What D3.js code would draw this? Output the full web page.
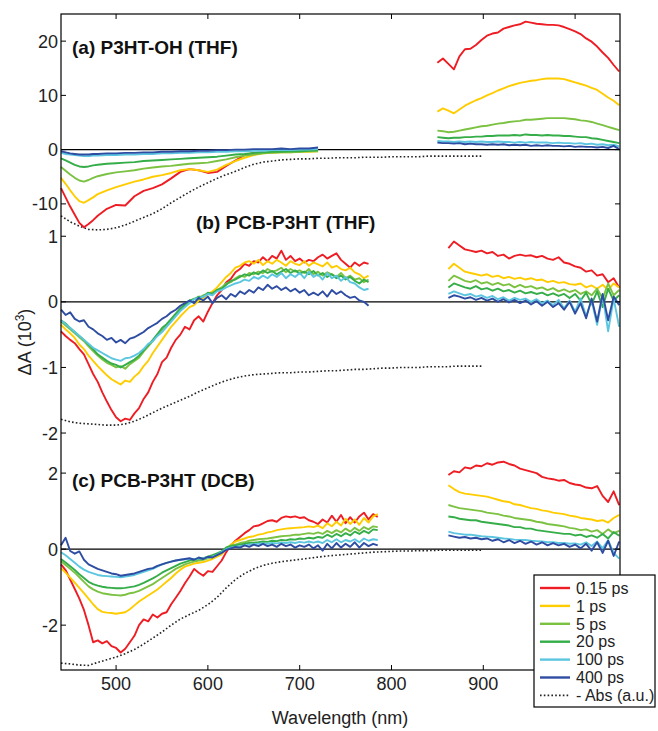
<!DOCTYPE html>
<html>
<head>
<meta charset="utf-8">
<script src="https://cdn.jsdelivr.net/npm/d3@7"></script>
<style>
  body { margin: 0; background: #fff; }
  svg { font-family: "Liberation Sans", Arial, sans-serif; }
</style>
</head>
<body>
<svg id="chart" width="658" height="731"></svg>
<script>
// wavelength grids (nm)
const wlVisA = [440, 445, 450, 455, 460, 465, 470, 475, 480, 490, 500, 510, 520, 530, 540, 550, 560, 570, 580, 590, 600, 610, 620, 630, 640, 650, 660, 670, 680, 690, 700, 710, 720];
const wlVis = d3.range(440, 786, 5);
const wlNir = d3.range(850, 1049, 6);
const wlAbs = d3.range(440, 901, 10);

const delays = ["0.15 ps", "1 ps", "5 ps", "20 ps", "100 ps", "400 ps"];
const colors = ["#ee1d24", "#ffcc00", "#7cc242", "#35ad48", "#5cc6e0", "#2e4da2"];

// ---- (a) P3HT-OH (THF), dA x 10^3
const aVis = [
  [-7.1, -8.8, -10.5, -12.0, -13.5, -14.3, -13.7, -13.0, -12.2, -10.9, -10.2, -10.3, -8.6, -7.6, -7.1, -6.4, -5.3, -4.1, -3.6, -3.8, -4.3, -4.1, -3.0, -2.0, -1.0, -0.6, -0.5, null, null, null, null, null, null],
  [-5.2, -6.3, -7.5, -8.6, -9.5, -9.8, -9.3, -8.8, -8.2, -7.5, -6.9, -6.4, -5.9, -5.5, -5.0, -4.7, -4.3, -3.8, -3.6, -3.8, -4.1, -3.7, -2.8, -2.1, -1.5, -1.0, -0.7, -0.6, -0.5, -0.5, -0.4, -0.4, -0.3],
  [-3.2, -3.9, -4.6, -5.2, -5.7, -5.9, -5.6, -5.2, -4.9, -4.5, -4.2, -4.0, -3.8, -3.5, -3.3, -3.1, -3.0, -2.8, -2.6, -2.5, -2.4, -2.1, -1.8, -1.4, -1.1, -0.9, -0.7, -0.6, -0.5, -0.5, -0.4, -0.3, -0.3],
  [-1.6, -2.0, -2.4, -2.8, -3.1, -3.2, -3.1, -2.9, -2.8, -2.6, -2.5, -2.4, -2.3, -2.1, -2.0, -1.9, -1.8, -1.7, -1.6, -1.5, -1.4, -1.3, -1.1, -0.9, -0.8, -0.6, -0.5, -0.4, -0.4, -0.3, -0.3, -0.2, -0.1],
  [-0.6, -0.8, -0.9, -1.0, -1.1, -1.2, -1.2, -1.1, -1.1, -1.0, -1.0, -0.9, -0.9, -0.8, -0.8, -0.7, -0.7, -0.6, -0.6, -0.5, -0.5, -0.4, -0.4, -0.3, -0.3, -0.2, -0.2, -0.1, -0.1, -0.1, 0.0, 0.0, 0.1],
  [-0.3, -0.5, -0.7, -0.8, -0.9, -0.9, -0.9, -0.8, -0.8, -0.7, -0.7, -0.6, -0.6, -0.5, -0.5, -0.4, -0.4, -0.3, -0.3, -0.2, -0.2, -0.1, -0.1, 0.0, 0.0, 0.1, 0.1, 0.1, 0.2, 0.1, 0.2, 0.2, 0.4]
];
const aNir = [
  [16.0, 16.8, 15.8, 14.8, 17.2, 18.5, 18.6, 19.3, 20.2, 21.0, 21.4, 21.6, 22.3, 22.6, 22.9, 23.1, 23.6, 23.4, 23.2, 23.1, 23.0, 23.0, 22.9, 22.6, 22.2, 21.8, 21.3, 20.5, 19.9, 19.0, 17.9, 16.9, 15.6, 14.4],
  [7.0, 7.6, 7.2, 6.7, 7.4, 8.1, 8.6, 9.1, 9.5, 10.0, 10.4, 10.9, 11.3, 11.7, 12.0, 12.3, 12.5, 12.7, 12.8, 13.0, 13.1, 13.1, 13.1, 13.0, 12.7, 12.4, 12.1, 11.8, 11.4, 11.0, 10.3, 9.6, 9.0, 8.2],
  [3.5, 3.4, 3.2, 3.3, 3.5, 3.7, 3.9, 4.1, 4.3, 4.4, 4.6, 4.8, 4.9, 5.1, 5.2, 5.3, 5.5, 5.5, 5.6, 5.7, 5.8, 5.8, 5.8, 5.8, 5.7, 5.6, 5.4, 5.3, 5.1, 4.8, 4.5, 4.2, 3.9, 3.6],
  [2.3, 2.2, 2.1, 2.2, 2.2, 2.3, 2.3, 2.4, 2.4, 2.5, 2.5, 2.6, 2.6, 2.6, 2.7, 2.6, 2.8, 2.7, 2.7, 2.6, 2.7, 2.6, 2.6, 2.5, 2.5, 2.4, 2.3, 2.3, 2.1, 2.0, 1.8, 1.6, 1.4, 1.2],
  [1.6, 1.5, 1.5, 1.4, 1.5, 1.4, 1.5, 1.4, 1.5, 1.4, 1.4, 1.5, 1.4, 1.4, 1.3, 1.4, 1.3, 1.4, 1.3, 1.3, 1.3, 1.2, 1.3, 1.2, 1.2, 1.1, 1.2, 1.0, 1.1, 0.9, 1.0, 0.8, 0.9, 0.6],
  [1.3, 1.2, 1.2, 1.1, 1.2, 1.0, 1.1, 1.0, 1.0, 0.9, 1.0, 0.9, 1.0, 0.8, 0.9, 0.8, 0.9, 0.7, 0.8, 0.7, 0.8, 0.7, 0.7, 0.6, 0.7, 0.5, 0.6, 0.5, 0.5, 0.4, 0.5, 0.3, 0.7, 0.1]
];
const aAbs = [-12.2, -13.3, -14.1, -14.7, -14.8, -14.7, -14.4, -13.9, -13.2, -12.5, -11.8, -10.9, -9.8, -8.8, -7.8, -6.9, -6.1, -5.3, -4.6, -4.0, -3.3, -2.7, -2.3, -2.1, -1.9, -1.8, -1.7, -1.7, -1.6, -1.6, -1.5, -1.5, -1.5, -1.4, -1.4, -1.4, -1.3, -1.3, -1.3, -1.3, -1.2, -1.2, -1.2, -1.2, -1.2, -1.2, -1.2];

// ---- (b) PCB-P3HT (THF)
const bVis = [
  [-0.45, -0.52, -0.58, -0.63, -0.72, -0.80, -0.95, -1.10, -1.22, -1.38, -1.52, -1.65, -1.76, -1.82, -1.78, -1.80, -1.70, -1.62, -1.48, -1.38, -1.22, -1.10, -0.92, -0.85, -0.70, -0.58, -0.50, -0.38, -0.42, -0.28, -0.22, -0.30, -0.15, -0.02, 0.10, 0.18, 0.30, 0.35, 0.45, 0.50, 0.58, 0.55, 0.62, 0.60, 0.68, 0.62, 0.70, 0.66, 0.78, 0.64, 0.70, 0.62, 0.66, 0.60, 0.64, 0.62, 0.68, 0.72, 0.66, 0.70, 0.74, 0.64, 0.58, 0.52, 0.60, 0.55, 0.60, 0.58, null, null],
  [-0.35, -0.42, -0.48, -0.55, -0.65, -0.72, -0.82, -0.90, -0.98, -1.05, -1.12, -1.18, -1.22, -1.26, -1.20, -1.22, -1.14, -1.08, -0.98, -0.90, -0.78, -0.68, -0.58, -0.48, -0.38, -0.30, -0.22, -0.15, -0.08, -0.05, 0.02, 0.06, 0.12, 0.16, 0.22, 0.30, 0.38, 0.44, 0.52, 0.55, 0.60, 0.62, 0.58, 0.64, 0.56, 0.62, 0.58, 0.64, 0.60, 0.55, 0.62, 0.58, 0.56, 0.62, 0.55, 0.60, 0.57, 0.54, 0.60, 0.52, 0.55, 0.50, 0.48, 0.52, 0.45, 0.42, 0.36, 0.40, null, null],
  [-0.30, -0.36, -0.42, -0.48, -0.54, -0.60, -0.68, -0.75, -0.82, -0.88, -0.93, -0.96, -1.00, -0.98, -1.02, -0.95, -0.90, -0.85, -0.76, -0.68, -0.60, -0.50, -0.43, -0.36, -0.28, -0.20, -0.12, -0.05, 0.00, 0.05, 0.04, 0.10, 0.12, 0.14, 0.18, 0.22, 0.28, 0.30, 0.36, 0.40, 0.38, 0.44, 0.42, 0.46, 0.44, 0.50, 0.46, 0.48, 0.52, 0.45, 0.50, 0.46, 0.48, 0.44, 0.50, 0.42, 0.46, 0.40, 0.45, 0.42, 0.38, 0.44, 0.36, 0.40, 0.34, 0.36, 0.30, 0.34, null, null],
  [-0.28, -0.33, -0.40, -0.46, -0.52, -0.58, -0.65, -0.72, -0.80, -0.85, -0.90, -0.94, -0.96, -1.00, -0.96, -0.92, -0.88, -0.82, -0.74, -0.66, -0.58, -0.49, -0.40, -0.34, -0.26, -0.18, -0.10, -0.04, 0.02, 0.04, 0.08, 0.08, 0.14, 0.12, 0.18, 0.20, 0.26, 0.32, 0.34, 0.38, 0.42, 0.40, 0.45, 0.42, 0.48, 0.44, 0.47, 0.42, 0.46, 0.50, 0.44, 0.48, 0.43, 0.46, 0.42, 0.47, 0.40, 0.44, 0.38, 0.42, 0.36, 0.40, 0.34, 0.38, 0.32, 0.28, 0.34, 0.30, null, null],
  [-0.28, -0.34, -0.40, -0.46, -0.52, -0.58, -0.64, -0.70, -0.74, -0.78, -0.82, -0.86, -0.88, -0.90, -0.86, -0.85, -0.82, -0.78, -0.72, -0.64, -0.60, -0.52, -0.46, -0.38, -0.30, -0.22, -0.14, -0.08, -0.02, 0.04, 0.06, 0.08, 0.12, 0.10, 0.16, 0.18, 0.22, 0.25, 0.28, 0.30, 0.34, 0.32, 0.38, 0.35, 0.40, 0.36, 0.42, 0.38, 0.44, 0.36, 0.42, 0.38, 0.44, 0.36, 0.46, 0.38, 0.42, 0.34, 0.44, 0.36, 0.40, 0.32, 0.38, 0.30, 0.28, 0.22, 0.18, 0.20, null, null],
  [-0.12, -0.20, -0.16, -0.26, -0.30, -0.28, -0.38, -0.42, -0.48, -0.52, -0.58, -0.55, -0.62, -0.58, -0.63, -0.56, -0.54, -0.50, -0.46, -0.40, -0.36, -0.32, -0.26, -0.22, -0.16, -0.12, -0.06, -0.02, 0.02, -0.02, 0.06, 0.02, 0.08, -0.02, 0.06, 0.10, 0.04, 0.12, 0.08, 0.16, 0.12, 0.18, 0.14, 0.22, 0.18, 0.26, 0.20, 0.24, 0.18, 0.22, 0.16, 0.20, 0.14, 0.18, 0.10, 0.14, 0.10, 0.16, 0.08, 0.18, 0.12, 0.16, 0.10, 0.06, 0.08, 0.02, 0.00, -0.06, null, null]
];
const bNir = [
  [null, null, 0.82, 0.92, 0.86, 0.80, 0.78, 0.76, 0.78, 0.74, 0.76, 0.70, 0.72, 0.66, 0.70, 0.72, 0.70, 0.71, 0.68, 0.70, 0.66, 0.64, 0.68, 0.60, 0.58, 0.54, 0.52, 0.46, 0.48, 0.40, 0.42, 0.30, 0.36, 0.22],
  [null, null, 0.50, 0.58, 0.52, 0.46, 0.44, 0.42, 0.40, 0.42, 0.38, 0.40, 0.36, 0.38, 0.35, 0.37, 0.34, 0.36, 0.33, 0.34, 0.30, 0.32, 0.29, 0.30, 0.27, 0.26, 0.28, 0.22, 0.25, 0.20, 0.26, 0.18, 0.28, 0.22],
  [null, null, 0.32, 0.40, 0.36, 0.32, 0.30, 0.33, 0.28, 0.30, 0.26, 0.29, 0.25, 0.27, 0.22, 0.26, 0.22, 0.24, 0.20, 0.22, 0.18, 0.21, 0.16, 0.19, 0.15, 0.18, 0.12, 0.16, 0.10, 0.20, 0.05, 0.28, 0.10, 0.18],
  [null, null, 0.22, 0.28, 0.25, 0.22, 0.20, 0.24, 0.19, 0.21, 0.17, 0.20, 0.16, 0.18, 0.14, 0.17, 0.13, 0.15, 0.12, 0.14, 0.10, 0.13, 0.09, 0.12, 0.06, 0.12, 0.02, 0.14, -0.04, 0.16, -0.08, 0.20, 0.02, 0.10],
  [null, null, 0.12, 0.16, 0.13, 0.10, 0.12, 0.08, 0.10, 0.06, 0.09, 0.04, 0.07, 0.02, 0.06, 0.03, 0.05, 0.00, 0.04, -0.02, 0.02, -0.05, 0.03, -0.10, 0.02, -0.15, 0.05, -0.22, 0.02, -0.35, 0.10, -0.45, 0.05, -0.38],
  [null, null, 0.06, 0.10, 0.08, 0.05, 0.07, 0.03, 0.06, 0.02, 0.05, 0.00, 0.04, -0.01, 0.03, -0.02, 0.02, -0.04, 0.01, -0.06, 0.00, -0.08, -0.02, -0.12, 0.00, -0.18, -0.02, -0.25, 0.05, -0.30, 0.12, -0.28, 0.08, -0.05]
];
const bAbs = [-1.79, -1.83, -1.85, -1.86, -1.87, -1.88, -1.88, -1.86, -1.82, -1.76, -1.69, -1.62, -1.56, -1.50, -1.44, -1.37, -1.31, -1.25, -1.20, -1.16, -1.13, -1.11, -1.10, -1.09, -1.08, -1.08, -1.07, -1.07, -1.06, -1.05, -1.05, -1.04, -1.03, -1.03, -1.02, -1.01, -1.01, -1.00, -1.00, -1.00, -0.99, -0.99, -0.99, -0.98, -0.98, -0.98, -0.98];

// ---- (c) PCB-P3HT (DCB)
const cVis = [
  [-0.40, -0.55, -0.80, -1.05, -1.30, -1.60, -2.00, -2.45, -2.40, -2.48, -2.42, -2.55, -2.60, -2.72, -2.62, -2.45, -2.28, -2.00, -1.85, -1.90, -1.72, -1.80, -1.70, -1.66, -1.45, -1.28, -1.10, -0.90, -0.72, -0.52, -0.62, -0.70, -0.58, -0.60, -0.45, -0.30, -0.08, 0.10, 0.22, 0.32, 0.42, 0.50, 0.60, 0.62, 0.68, 0.74, 0.76, 0.72, 0.82, 0.86, 0.84, 0.86, 0.82, 0.84, 0.76, 0.72, 0.66, 0.78, 0.70, 0.88, 0.72, 0.90, 0.68, 0.84, 0.70, 0.86, 0.96, 0.78, 0.92, 0.85],
  [-0.50, -0.62, -0.75, -0.88, -1.02, -1.16, -1.30, -1.45, -1.58, -1.65, -1.67, -1.68, -1.70, -1.68, -1.66, -1.58, -1.48, -1.38, -1.30, -1.22, -1.14, -1.06, -0.96, -0.86, -0.76, -0.64, -0.54, -0.46, -0.42, -0.38, -0.36, -0.34, -0.30, -0.26, -0.20, -0.14, 0.00, 0.12, 0.20, 0.24, 0.28, 0.32, 0.34, 0.38, 0.40, 0.44, 0.46, 0.50, 0.52, 0.54, 0.55, 0.56, 0.57, 0.58, 0.60, 0.58, 0.62, 0.55, 0.68, 0.60, 0.72, 0.62, 0.80, 0.66, 0.78, 0.64, 0.82, 0.70, 0.86, 0.92],
  [-0.32, -0.42, -0.52, -0.62, -0.74, -0.86, -0.98, -1.06, -1.12, -1.16, -1.18, -1.20, -1.21, -1.22, -1.20, -1.16, -1.14, -1.10, -1.04, -0.98, -0.92, -0.84, -0.76, -0.68, -0.60, -0.52, -0.46, -0.40, -0.36, -0.33, -0.30, -0.28, -0.24, -0.20, -0.14, -0.08, 0.04, 0.10, 0.12, 0.16, 0.18, 0.22, 0.24, 0.26, 0.27, 0.28, 0.30, 0.32, 0.34, 0.35, 0.36, 0.38, 0.38, 0.40, 0.42, 0.40, 0.44, 0.40, 0.48, 0.42, 0.50, 0.44, 0.54, 0.46, 0.56, 0.48, 0.58, 0.52, 0.60, 0.58],
  [-0.26, -0.35, -0.45, -0.55, -0.66, -0.76, -0.86, -0.92, -0.96, -0.99, -1.01, -1.02, -1.03, -1.03, -1.02, -1.00, -0.98, -0.94, -0.89, -0.83, -0.77, -0.70, -0.62, -0.56, -0.50, -0.44, -0.38, -0.34, -0.30, -0.28, -0.26, -0.24, -0.20, -0.16, -0.11, -0.06, 0.04, 0.08, 0.10, 0.12, 0.14, 0.16, 0.17, 0.18, 0.20, 0.19, 0.22, 0.21, 0.24, 0.23, 0.26, 0.25, 0.28, 0.27, 0.30, 0.28, 0.32, 0.30, 0.38, 0.32, 0.40, 0.34, 0.42, 0.36, 0.46, 0.40, 0.48, 0.42, 0.52, 0.50],
  [-0.08, -0.16, -0.26, -0.36, -0.46, -0.54, -0.60, -0.64, -0.68, -0.70, -0.71, -0.72, -0.73, -0.74, -0.72, -0.70, -0.68, -0.64, -0.60, -0.56, -0.52, -0.46, -0.40, -0.36, -0.33, -0.30, -0.28, -0.27, -0.26, -0.26, -0.25, -0.24, -0.22, -0.20, -0.15, -0.08, 0.00, 0.04, 0.06, 0.08, 0.10, 0.12, 0.13, 0.14, 0.15, 0.14, 0.16, 0.15, 0.17, 0.16, 0.18, 0.16, 0.19, 0.17, 0.20, 0.17, 0.20, 0.16, 0.24, 0.18, 0.26, 0.18, 0.24, 0.20, 0.26, 0.18, 0.28, 0.22, 0.26, 0.24],
  [0.10, 0.30, -0.05, -0.12, -0.06, -0.28, -0.40, -0.46, -0.52, -0.56, -0.60, -0.64, -0.66, -0.70, -0.68, -0.66, -0.64, -0.60, -0.56, -0.52, -0.50, -0.44, -0.40, -0.36, -0.33, -0.30, -0.28, -0.26, -0.24, -0.28, -0.22, -0.26, -0.20, -0.22, -0.16, -0.10, -0.02, 0.02, 0.06, 0.04, 0.10, 0.06, 0.12, 0.08, 0.14, 0.08, 0.12, 0.06, 0.14, 0.08, 0.12, 0.04, 0.10, 0.06, 0.12, 0.02, 0.10, -0.04, 0.14, 0.02, 0.16, 0.04, 0.14, 0.06, 0.18, 0.04, 0.16, 0.08, 0.14, 0.10]
];
const cNir = [
  [null, null, 1.95, 2.05, 2.02, 2.15, 2.12, 2.20, 2.18, 2.26, 2.22, 2.28, 2.30, 2.24, 2.20, 2.12, 2.08, 2.04, 2.00, 1.90, 1.86, 1.84, 1.80, 1.82, 1.74, 1.70, 1.68, 1.62, 1.60, 1.66, 1.40, 1.24, 1.52, 1.16],
  [null, null, 1.68, 1.58, 1.50, 1.46, 1.44, 1.42, 1.40, 1.38, 1.34, 1.30, 1.26, 1.24, 1.18, 1.16, 1.12, 1.08, 1.06, 1.02, 1.00, 0.96, 0.94, 0.92, 0.88, 0.86, 0.82, 0.80, 0.78, 0.74, 0.76, 0.70, 0.82, 0.90],
  [null, null, 1.16, 1.12, 1.08, 1.06, 1.04, 1.02, 1.00, 0.96, 0.94, 0.92, 0.88, 0.86, 0.82, 0.80, 0.78, 0.76, 0.72, 0.70, 0.66, 0.64, 0.62, 0.60, 0.56, 0.54, 0.50, 0.52, 0.46, 0.50, 0.40, 0.52, 0.42, 0.48],
  [null, null, 0.86, 0.84, 0.80, 0.78, 0.76, 0.76, 0.72, 0.70, 0.68, 0.66, 0.64, 0.62, 0.58, 0.58, 0.54, 0.54, 0.50, 0.48, 0.46, 0.44, 0.42, 0.40, 0.40, 0.36, 0.38, 0.32, 0.36, 0.30, 0.40, 0.28, 0.45, 0.35],
  [null, null, 0.46, 0.42, 0.40, 0.38, 0.38, 0.36, 0.34, 0.33, 0.32, 0.30, 0.28, 0.27, 0.25, 0.24, 0.24, 0.22, 0.21, 0.20, 0.18, 0.18, 0.16, 0.16, 0.14, 0.15, 0.12, 0.18, 0.08, 0.20, 0.02, 0.24, -0.10, -0.25],
  [null, null, 0.36, 0.33, 0.30, 0.32, 0.28, 0.30, 0.26, 0.28, 0.22, 0.26, 0.18, 0.24, 0.16, 0.22, 0.14, 0.20, 0.12, 0.18, 0.10, 0.16, 0.10, 0.14, 0.06, 0.12, 0.02, 0.14, -0.04, 0.18, -0.10, 0.22, -0.18, 0.20]
];
const cAbs = [-3.00, -3.02, -3.05, -3.06, -2.98, -2.91, -2.84, -2.75, -2.64, -2.50, -2.34, -2.18, -2.00, -1.84, -1.72, -1.61, -1.46, -1.27, -1.02, -0.80, -0.64, -0.52, -0.43, -0.37, -0.33, -0.30, -0.27, -0.24, -0.21, -0.18, -0.16, -0.14, -0.12, -0.10, -0.08, -0.07, -0.06, -0.05, -0.05, -0.04, -0.04, -0.03, -0.03, -0.03, -0.03, -0.03, -0.03];

const xTicks = [500, 600, 700, 800, 900, 1000];
const xTickLabels = [500, 600, 700, 800, 900]; // 1000 sits under the legend

// layout
const frameL = 61, frameR = 620, frameT = 14, frameB = 670;

const panels = [
    {label: "(a) P3HT-OH (THF)", domain: [-15, 25], range: [231, 14], ticks: [-10, 0, 10, 20],
        visWl: wlVisA, vis: aVis, nir: aNir, abs: aAbs, lx: 72, ly: 54},
    {label: "(b) PCB-P3HT (THF)", domain: [-2.35, 1.08], range: [456, 231], ticks: [-2, -1, 0, 1],
        visWl: wlVis, vis: bVis, nir: bNir, abs: bAbs, lx: 196, ly: 229},
    {label: "(c) PCB-P3HT (DCB)", domain: [-3.18, 2.45], range: [670, 456], ticks: [-2, 0, 2],
        visWl: wlVis, vis: cVis, nir: cNir, abs: cAbs, lx: 72, ly: 487}
];

const svg = d3.select("#chart");

const x = d3.scaleLinear().domain([440, 1050]).range([frameL, frameR + 1]);

panels.forEach(function (p) {
    const y = d3.scaleLinear().domain(p.domain).range(p.range);
    const g = svg.append("g");

    // zero line
    g.append("line")
        .attr("x1", frameL).attr("x2", frameR)
        .attr("y1", y(0)).attr("y2", y(0))
        .attr("stroke", "#000").attr("stroke-width", 1.4);

    const line = d3.line()
        .defined(function (d) { return d[1] !== null; })
        .x(function (d) { return x(d[0]); })
        .y(function (d) { return y(d[1]); });

    // dotted absorbance
    g.append("path")
        .attr("d", line(wlAbs.map(function (w, i) { return [w, p.abs[i]]; })))
        .attr("fill", "none")
        .attr("stroke", "#222")
        .attr("stroke-width", 1.6)
        .attr("stroke-dasharray", "1.6,2.2");

    p.vis.forEach(function (vals, k) {
        [[p.visWl, vals], [wlNir, p.nir[k]]].forEach(function (seg) {
            g.append("path")
                .attr("d", line(seg[0].map(function (w, i) { return [w, seg[1][i] === undefined ? null : seg[1][i]]; })))
                .attr("fill", "none")
                .attr("stroke", colors[k])
                .attr("stroke-width", 1.9)
                .attr("stroke-linejoin", "round");
        });
    });

    // y ticks, left and right, pointing inward
    p.ticks.forEach(function (t) {
        g.append("line").attr("x1", frameL).attr("x2", frameL + 5)
            .attr("y1", y(t)).attr("y2", y(t)).attr("stroke", "#000");
        g.append("line").attr("x1", frameR - 5).attr("x2", frameR)
            .attr("y1", y(t)).attr("y2", y(t)).attr("stroke", "#000");
        g.append("text")
            .attr("x", frameL - 3).attr("y", y(t)).attr("dy", "0.36em")
            .attr("text-anchor", "end")
            .attr("font-size", 18).attr("fill", "#222")
            .text(t);
    });

    g.append("text")
        .attr("x", p.lx).attr("y", p.ly)
        .attr("font-size", 19).attr("font-weight", "bold").attr("fill", "#111")
        .text(p.label);
});

// frame
svg.append("rect")
    .attr("x", frameL).attr("y", frameT)
    .attr("width", frameR - frameL).attr("height", frameB - frameT)
    .attr("fill", "none").attr("stroke", "#000").attr("stroke-width", 1.2);

// x ticks top and bottom
xTicks.forEach(function (t) {
    svg.append("line").attr("x1", x(t)).attr("x2", x(t))
        .attr("y1", frameT).attr("y2", frameT + 5).attr("stroke", "#000");
    svg.append("line").attr("x1", x(t)).attr("x2", x(t))
        .attr("y1", frameB - 5).attr("y2", frameB).attr("stroke", "#000");
});
xTickLabels.forEach(function (t) {
    svg.append("text")
        .attr("x", x(t)).attr("y", frameB + 20)
        .attr("text-anchor", "middle")
        .attr("font-size", 18).attr("fill", "#222")
        .text(t);
});

svg.append("text")
    .attr("x", 340).attr("y", 724)
    .attr("text-anchor", "middle")
    .attr("font-size", 18).attr("fill", "#222")
    .text("Wavelength (nm)");

const yl = svg.append("text")
    .attr("transform", "translate(31,342) rotate(-90)")
    .attr("text-anchor", "middle")
    .attr("font-size", 18).attr("fill", "#222");
yl.append("tspan").text("\u0394A (10");
yl.append("tspan").attr("font-size", 12).attr("dy", -7).text("3");
yl.append("tspan").attr("dy", 7).text(")");

// legend
const lg = svg.append("g").attr("transform", "translate(534,575)");
lg.append("rect")
    .attr("width", 121).attr("height", 132)
    .attr("fill", "#fff").attr("stroke", "#000").attr("stroke-width", 1.2);

const legendItems = delays.map(function (d, i) { return {text: d, color: colors[i], dotted: false}; })
    .concat([{text: "- Abs (a.u.)", color: "#222", dotted: true}]);

const row = lg.selectAll("g.row")
    .data(legendItems)
    .enter()
    .append("g")
    .attr("transform", function (d, i) { return "translate(0," + (13 + i * 17.9) + ")"; });

row.append("line")
    .attr("x1", 6).attr("x2", 36)
    .attr("stroke", function (d) { return d.color; })
    .attr("stroke-width", function (d) { return d.dotted ? 1.6 : 2.4; })
    .attr("stroke-dasharray", function (d) { return d.dotted ? "1.6,2.2" : null; });

row.append("text")
    .attr("x", 42).attr("dy", "0.36em")
    .attr("font-size", 16).attr("fill", "#222")
    .text(function (d) { return d.text; });
</script>
</body>
</html>
